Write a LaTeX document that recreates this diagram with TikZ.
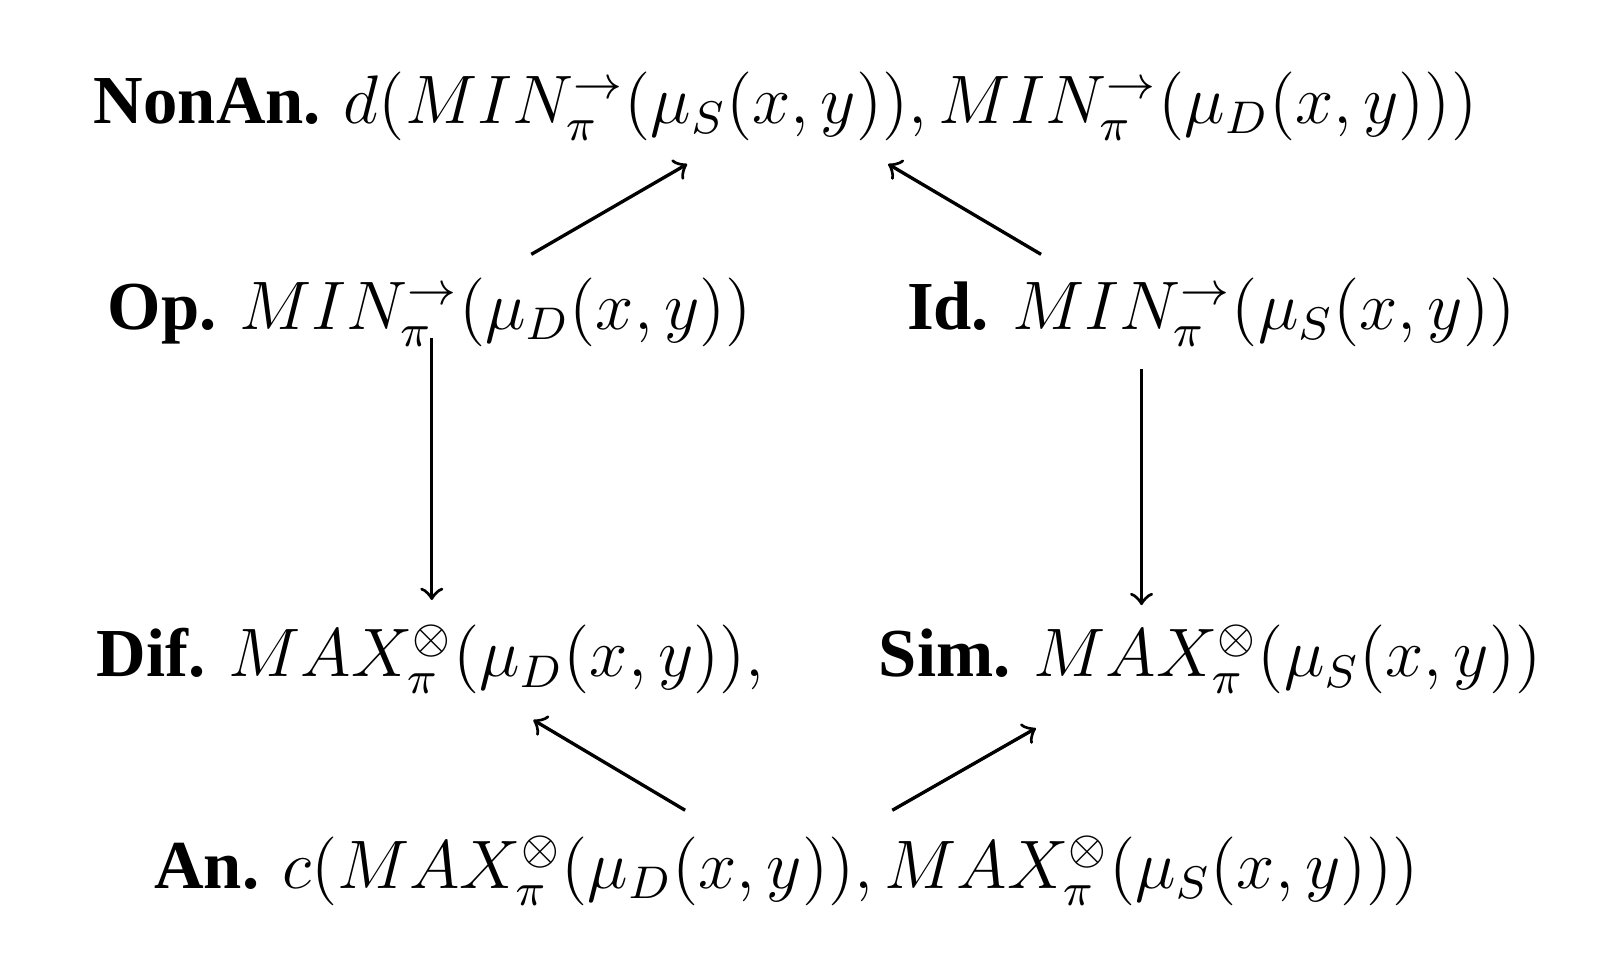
\documentclass[tikz,border=0pt,12pt]{standalone}
\usepackage{amsmath,amssymb}
\usepackage{fontspec}
\setmainfont{Liberation Serif}
\usepackage{tikz}
\usetikzlibrary{arrows,positioning,calc}
\tikzstyle{term}=[anchor=base,inner sep=0pt,scale=1.03]
\tikzstyle{link}=[->,line width=0.6pt]
\newcommand{\minop}{MIN^{\rightarrow}_{\pi}}
\newcommand{\maxop}{MAX^{\otimes}_{\pi}}

\begin{document}
\begin{tikzpicture}[x=0.1846pt,y=-0.1846pt]
\useasboundingbox (0,0) rectangle (1560,936);
\node [term] (nonan) at (766,120) {\textbf{NonAn.} $d(\minop(\mu_S(x,y)),\minop(\mu_D(x,y)))$};
\node [term] (op) at (419,321) {\textbf{Op.} $\minop(\mu_D(x,y))$};
\node [term] (id) at (1181,321) {\textbf{Id.} $\minop(\mu_S(x,y))$};
\node [term] (dif) at (420,660) {\textbf{Dif.} $\maxop(\mu_D(x,y)),$};
\node [term] (sim) at (1180,660) {\textbf{Sim.} $\maxop(\mu_S(x,y))$};
\node [term] (an) at (767,866) {\textbf{An.} $c(\maxop(\mu_D(x,y)),\maxop(\mu_S(x,y)))$};

\draw [link] ($(op.base)+(99,-73)$) -- ($(nonan.base)+(-96,40)$);
\draw [link] ($(id.base)+(-166,-73)$) -- ($(nonan.base)+(100,40)$);
\draw [link] ($(op.base)+(2,9)$) -- ($(dif.base)+(1,-75)$);
\draw [link] ($(id.base)+(-68,39)$) -- ($(sim.base)+(-67,-70)$);
\draw [link] ($(an.base)+(-99,-76)$) -- ($(dif.base)+(100,42)$);
\draw [link] ($(an.base)+(103,-76)$) -- ($(sim.base)+(-170,50)$);
\end{tikzpicture}
\end{document}
